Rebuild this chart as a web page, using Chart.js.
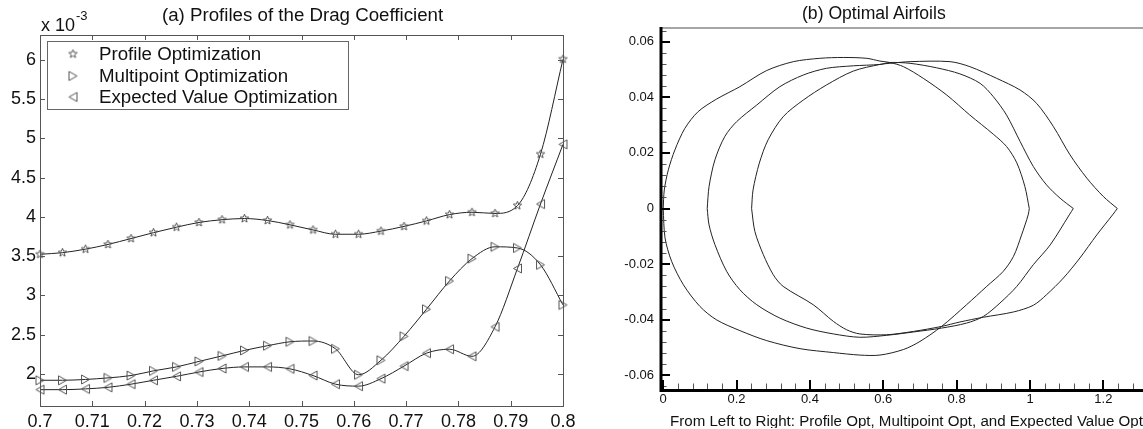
<!DOCTYPE html>
<html>
<head>
<meta charset="utf-8">
<title>Drag profiles and airfoils</title>
<script src="https://cdn.jsdelivr.net/npm/chart.js@4/dist/chart.umd.min.js"></script>
<style>
html, body { margin: 0; padding: 0; background: #fff; width: 1143px; height: 429px; overflow: hidden; }
canvas { position: absolute; top: 0; }
#dragChart { left: 0; }
#foilChart { left: 600px; }
.txt { position: absolute; font-family: "Liberation Sans", Arial, sans-serif; color: #111; white-space: nowrap; line-height: 1; }
</style>
</head>
<body>
<canvas id="dragChart" width="600" height="429"></canvas>
<canvas id="foilChart" width="543" height="429"></canvas>
<div class="txt" style="left:162px;top:6px;font-size:18.7px">(a) Profiles of the Drag Coefficient</div>
<div class="txt" style="left:41px;top:16px;font-size:18px">x 10</div>
<div class="txt" style="left:76px;top:9px;font-size:13px">-3</div>
<div class="txt" style="left:802px;top:5px;font-size:17.6px">(b) Optimal Airfoils</div>
<div class="txt" style="left:670px;top:413px;width:473px;overflow:hidden;font-size:15.1px">From Left to Right: Profile Opt, Multipoint Opt, and Expected Value Opt</div>

<script>
// --- Left chart data ---
const machValues = [0.7, 0.7043, 0.7087, 0.713, 0.7174, 0.7217, 0.7261, 0.7304, 0.7348, 0.7391, 0.7435, 0.7478, 0.7522, 0.7565, 0.7609, 0.7652, 0.7696, 0.7739, 0.7783, 0.7826, 0.787, 0.7913, 0.7957, 0.8];
const profileCd = [3.525, 3.545, 3.59, 3.65, 3.725, 3.80, 3.87, 3.93, 3.965, 3.98, 3.955, 3.90, 3.835, 3.78, 3.78, 3.82, 3.88, 3.95, 4.03, 4.06, 4.045, 4.145, 4.80, 6.01];
const multipointCd = [1.92, 1.92, 1.93, 1.95, 1.98, 2.04, 2.09, 2.16, 2.23, 2.30, 2.36, 2.41, 2.42, 2.32, 1.99, 2.175, 2.48, 2.825, 3.185, 3.47, 3.62, 3.605, 3.39, 2.88];
const expectedCd = [1.80, 1.80, 1.81, 1.83, 1.87, 1.92, 1.97, 2.025, 2.07, 2.09, 2.09, 2.065, 1.98, 1.87, 1.845, 1.94, 2.10, 2.265, 2.315, 2.225, 2.60, 3.345, 4.165, 4.925];
const machTicks = [0.7, 0.71, 0.72, 0.73, 0.74, 0.75, 0.76, 0.77, 0.78, 0.79, 0.8];
const cdTicks = [2, 2.5, 3, 3.5, 4, 4.5, 5, 5.5, 6];
const legendLabels = ['Profile Optimization', 'Multipoint Optimization', 'Expected Value Optimization'];

// --- Right chart data (leading edge to trailing edge) ---
const profileUpperX = [0, .003, .014, .032, .059, .095, .145, .209, .282, .355, .427, .491, .555, .591, .618, .655, .709, .773, .836, .9, .936, .964, .986, .998];
const profileUpperY = [0, .0067, .0139, .0211, .0288, .0348, .0393, .0438, .0496, .0528, .054, .0543, .054, .053, .0525, .051, .0468, .0408, .0336, .0267, .0223, .0164, .0079, 0];
const profileLowerX = [0, .005, .023, .055, .1, .145, .209, .282, .373, .464, .536, .591, .655, .7, .759, .827, .882, .927, .955, .977, .995, .998];
const profileLowerY = [0, -.0106, -.019, -.0274, -.0352, -.04, -.0439, -.0475, -.0504, -.0518, -.0527, -.0527, -.0507, -.0478, -.0424, -.0346, -.028, -.0226, -.0172, -.0095, -.0023, 0];
const multiUpperX = [.12, .125, .141, .168, .2, .255, .318, .382, .445, .518, .591, .618, .673, .745, .809, .864, .9, .936, .973, 1.009, 1.045, 1.082, 1.118];
const multiUpperY = [0, .0079, .0175, .0259, .0312, .0372, .0438, .048, .0504, .0513, .0518, .0525, .0522, .0506, .0484, .045, .0402, .0336, .0241, .0151, .0085, .0037, 0];
const multiLowerX = [.12, .125, .141, .173, .209, .255, .318, .391, .464, .536, .609, .682, .759, .827, .873, .918, .964, 1.009, 1.055, 1.107, 1.118];
const multiLowerY = [0, -.0059, -.013, -.0226, -.0292, -.0346, -.0394, -.043, -.0451, -.0463, -.0456, -.0444, -.043, -.0412, -.0388, -.034, -.028, -.0202, -.0131, -.0023, 0];
const expectedUpperX = [.241, .245, .262, .286, .327, .382, .445, .518, .591, .618, .673, .782, .836, .909, .973, 1.018, 1.064, 1.109, 1.155, 1.2, 1.238];
const expectedUpperY = [0, .0067, .0163, .0247, .033, .039, .0444, .0494, .0518, .0522, .0528, .0528, .051, .0468, .0426, .0378, .0294, .0193, .0109, .0043, 0];
const expectedLowerX = [.241, .25, .273, .3, .327, .409, .464, .5, .536, .609, .682, .759, .809, .873, .955, 1.009, 1.045, 1.091, 1.136, 1.182, 1.225, 1.238];
const expectedLowerY = [0, -.0083, -.0166, -.0238, -.028, -.0346, -.0406, -.0436, -.0451, -.0454, -.0442, -.0424, -.0408, -.0391, -.0372, -.0348, -.031, -.025, -.0178, -.0095, -.0023, 0];
const chordTicks = [0, 0.2, 0.4, 0.6, 0.8, 1, 1.2];
const chordMinor = [.04, .08, .12, .16, .24, .28, .32, .36, .44, .48, .52, .56, .64, .68, .72, .76, .84, .88, .92, .96, 1.04, 1.08, 1.12, 1.16, 1.24, 1.28];
const thickTicks = [-0.06, -0.04, -0.02, 0, 0.02, 0.04, 0.06];
const thickMinor = [-.056, -.052, -.048, -.044, -.036, -.032, -.028, -.024, -.016, -.012, -.008, -.004, .004, .008, .012, .016, .024, .028, .032, .036, .044, .048, .052, .056, -.064, .064];

const FONT = '"Liberation Sans", Arial, sans-serif';

// --- Markers ---
function makeMarker(draw) {
    const c = document.createElement('canvas');
    c.width = 13; c.height = 13;
    const g = c.getContext('2d');
    g.strokeStyle = '#555';
    g.lineWidth = 1;
    g.beginPath();
    draw(g);
    g.closePath();
    g.stroke();
    return c;
}
const starMarker = makeMarker(g => {
    for (let i = 0; i < 10; i++) {
        const r = i % 2 ? 1.9 : 4.4;
        const a = -Math.PI / 2 + i * Math.PI / 5;
        g.lineTo(6.5 + r * Math.cos(a), 6.5 + r * Math.sin(a));
    }
});
const rightMarker = makeMarker(g => { g.moveTo(2.5, 2); g.lineTo(10.5, 6.5); g.lineTo(2.5, 11); });
const leftMarker = makeMarker(g => { g.moveTo(10.5, 2); g.lineTo(2.5, 6.5); g.lineTo(10.5, 11); });
const markers = [starMarker, rightMarker, leftMarker];

function series(label, ys, marker) {
    return {
        label, data: ys.map((y, i) => ({ x: machValues[i], y })),
        borderColor: '#222', borderWidth: 1, pointStyle: marker, pointRadius: 5,
        cubicInterpolationMode: 'monotone', clip: false, showLine: true
    };
}

// --- Plugins ---
const dragFrame = {
    id: 'dragFrame',
    afterDatasetsDraw(chart) {
        const { ctx, chartArea: a, scales } = chart;
        ctx.save();
        ctx.strokeStyle = '#555';
        ctx.lineWidth = 1;
        ctx.strokeRect(a.left + .5, a.top + .5, a.right - a.left, a.bottom - a.top);
        ctx.beginPath();
        machTicks.forEach(v => {
            const x = Math.round(scales.x.getPixelForValue(v)) + .5;
            ctx.moveTo(x, a.bottom); ctx.lineTo(x, a.bottom - 5);
            ctx.moveTo(x, a.top); ctx.lineTo(x, a.top + 5);
        });
        cdTicks.forEach(v => {
            const y = Math.round(scales.y.getPixelForValue(v)) + .5;
            ctx.moveTo(a.left, y); ctx.lineTo(a.left + 5, y);
            ctx.moveTo(a.right, y); ctx.lineTo(a.right - 5, y);
        });
        ctx.stroke();

        // legend box
        ctx.fillStyle = '#fff';
        ctx.fillRect(47.5, 41.5, 301, 68);
        ctx.strokeStyle = '#666';
        ctx.strokeRect(47.5, 41.5, 301, 68);
        ctx.font = '18.7px ' + FONT;
        ctx.textBaseline = 'middle';
        ctx.fillStyle = '#111';
        [54, 76, 97].forEach((y, i) => {
            ctx.drawImage(markers[i], 73 - 6.5, y - 6.5);
            ctx.fillText(legendLabels[i], 99, y + 1);
        });
        ctx.restore();
    }
};

const foilFrame = {
    id: 'foilFrame',
    afterDatasetsDraw(chart) {
        const { ctx, chartArea: a, scales } = chart;
        ctx.save();
        ctx.strokeStyle = '#888';
        ctx.lineWidth = 1.5;
        ctx.beginPath(); ctx.moveTo(a.left, a.top); ctx.lineTo(a.right, a.top); ctx.stroke();

        ctx.strokeStyle = '#555';
        ctx.lineWidth = 1;
        ctx.beginPath();
        chordMinor.forEach(v => {
            const x = Math.round(scales.x.getPixelForValue(v)) + .5;
            ctx.moveTo(x, a.bottom); ctx.lineTo(x, a.bottom - 5.5);
        });
        thickMinor.forEach(v => {
            const y = Math.round(scales.y.getPixelForValue(v)) + .5;
            ctx.moveTo(a.left, y); ctx.lineTo(a.left + 5.5, y);
        });
        ctx.stroke();

        ctx.strokeStyle = '#000';
        ctx.lineWidth = 2;
        ctx.beginPath();
        chordTicks.forEach(v => {
            const x = Math.round(scales.x.getPixelForValue(v));
            ctx.moveTo(x, a.bottom); ctx.lineTo(x, a.bottom - 9);
        });
        thickTicks.forEach(v => {
            const y = Math.round(scales.y.getPixelForValue(v));
            ctx.moveTo(a.left, y); ctx.lineTo(a.left + 9, y);
        });
        ctx.stroke();

        ctx.lineWidth = 3;
        ctx.beginPath();
        ctx.moveTo(a.left, a.top - 1); ctx.lineTo(a.left, a.bottom + 1.5); ctx.lineTo(a.right, a.bottom + 1.5);
        ctx.stroke();
        ctx.restore();
    }
};

// --- Left chart ---
new Chart(document.getElementById('dragChart'), {
    type: 'scatter',
    data: {
        datasets: [
            series(legendLabels[0], profileCd, starMarker),
            series(legendLabels[1], multipointCd, rightMarker),
            series(legendLabels[2], expectedCd, leftMarker)
        ]
    },
    options: {
        responsive: false, animation: false,
        layout: { padding: { top: 35, right: 37, left: 0, bottom: 0 } },
        plugins: { legend: { display: false }, tooltip: { enabled: false } },
        scales: {
            x: {
                type: 'linear', min: 0.7, max: 0.8,
                grid: { display: false, drawTicks: false }, border: { display: false },
                afterBuildTicks(s) { s.ticks = machTicks.map(value => ({ value })); },
                afterFit(s) { s.height = 23; },
                ticks: { color: '#111', font: { family: FONT, size: 18 }, padding: 5, maxRotation: 0, autoSkip: false, callback: v => String(v) }
            },
            y: {
                type: 'linear', min: 1.592, max: 6.318,
                grid: { display: false, drawTicks: false }, border: { display: false },
                afterBuildTicks(s) { s.ticks = cdTicks.map(value => ({ value })); },
                afterFit(s) { s.width = 40; },
                ticks: { color: '#111', font: { family: FONT, size: 18 }, padding: 4, autoSkip: false, callback: v => String(v) }
            }
        }
    },
    plugins: [dragFrame]
});

// --- Right chart ---
function foil(xs, ys) {
    return {
        data: xs.map((x, i) => ({ x, y: ys[i] })),
        showLine: true, borderColor: '#222', borderWidth: 1, pointRadius: 0, tension: 0.3
    };
}

new Chart(document.getElementById('foilChart'), {
    type: 'scatter',
    data: {
        datasets: [
            foil(profileUpperX, profileUpperY), foil(profileLowerX, profileLowerY),
            foil(multiUpperX, multiUpperY), foil(multiLowerX, multiLowerY),
            foil(expectedUpperX, expectedUpperY), foil(expectedLowerX, expectedLowerY)
        ]
    },
    options: {
        responsive: false, animation: false,
        layout: { padding: { top: 28, right: 0, left: 0, bottom: 0 } },
        plugins: { legend: { display: false }, tooltip: { enabled: false } },
        scales: {
            x: {
                type: 'linear', min: -0.006, max: 1.308,
                grid: { display: false, drawTicks: false }, border: { display: false },
                afterBuildTicks(s) { s.ticks = chordTicks.map(value => ({ value })); },
                afterFit(s) { s.height = 40; },
                ticks: { color: '#111', font: { family: FONT, size: 13 }, padding: 3, maxRotation: 0, autoSkip: false, callback: v => String(v) }
            },
            y: {
                type: 'linear', min: -0.0649, max: 0.0649,
                grid: { display: false, drawTicks: false }, border: { display: false },
                afterBuildTicks(s) { s.ticks = thickTicks.map(value => ({ value })); },
                afterFit(s) { s.width = 61; },
                ticks: { color: '#111', font: { family: FONT, size: 13 }, padding: 7, autoSkip: false, callback: v => String(v) }
            }
        }
    },
    plugins: [foilFrame]
});
</script>
</body>
</html>
